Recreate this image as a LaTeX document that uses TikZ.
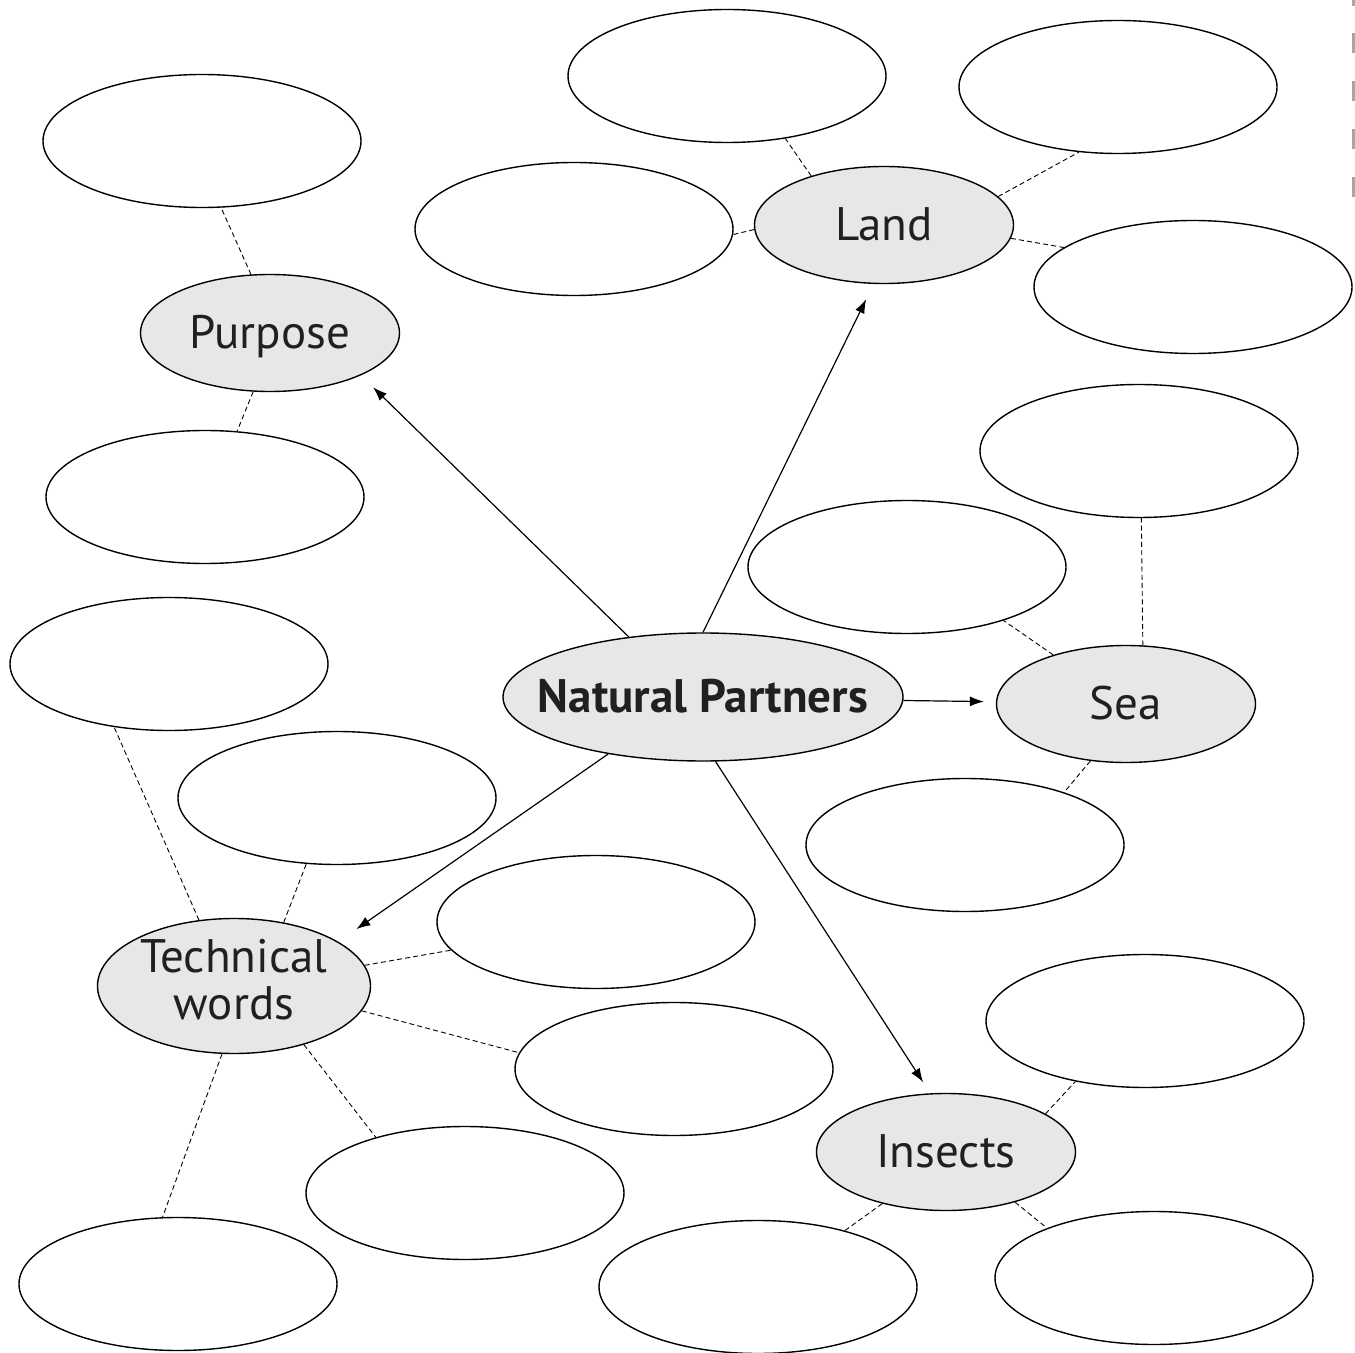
\documentclass[tikz,border=0pt]{standalone}
\usepackage{fontspec}
\setmainfont{PT Sans}
\usetikzlibrary{shapes.geometric,arrows.meta}
\definecolor{hubgray}{HTML}{E6E7E8}
\definecolor{ink}{HTML}{231F20}
\newcommand{\ctext}[1]{\makebox[0pt]{\begin{tabular}{@{}c@{}}#1\end{tabular}}}

\begin{document}
\begin{tikzpicture}[x=0.5pt,y=-0.5pt,>={Latex[length=7pt,width=5pt]},
    blank/.style={ellipse,draw,line width=0.7pt,minimum width=159pt,minimum height=66.5pt,inner sep=0pt},
    topic/.style={ellipse,draw,line width=0.7pt,fill=hubgray,minimum width=129.5pt,minimum height=58.5pt,
      inner sep=0pt,text depth=0pt,text=ink,font=\fontsize{23.5}{23}\selectfont},
    link/.style={dash pattern=on 2.5pt off 1.6pt,line width=0.45pt},
    spoke/.style={->,line width=0.6pt}]
  \useasboundingbox (0,0) rectangle (1355,1353);

  % topics
  \node[topic,minimum width=200pt,minimum height=64pt,font=\fontsize{23.5}{23}\selectfont\bfseries] (np) at (703,697) {\ctext{Natural Partners}};
  \node[topic] (purpose) at (270,333) {\ctext{Purpose}};
  \node[topic] (land) at (884,225) {\ctext{Land}};
  \node[topic] (sea) at (1126,704) {\ctext{Sea}};
  \node[topic,minimum width=136.5pt,minimum height=67.5pt,text depth=] (tech) at (234,986) {\ctext{Technical\\words}};
  \node[topic] (insects) at (946,1152) {\ctext{Insects}};

  % blanks
  \node[blank] (pA) at (202,141) {};
  \node[blank] (pB) at (205,497) {};
  \node[blank] (lA) at (727,76) {};
  \node[blank] (lB) at (1118,87) {};
  \node[blank] (lC) at (574,229) {};
  \node[blank] (lD) at (1193,287) {};
  \node[blank] (sA) at (1139,451) {};
  \node[blank] (sB) at (907,567) {};
  \node[blank] (sC) at (965,845) {};
  \node[blank] (tA) at (169,664) {};
  \node[blank] (tB) at (337,798) {};
  \node[blank] (tC) at (596,922) {};
  \node[blank] (tD) at (674,1069) {};
  \node[blank] (tE) at (465,1193) {};
  \node[blank] (tF) at (178,1284) {};
  \node[blank] (iA) at (1145,1021) {};
  \node[blank] (iB) at (758,1287) {};
  \node[blank] (iC) at (1154,1278) {};

  % arrows
  \draw[spoke,shorten >=8.5pt] (np.141) -- (purpose.-25);
  \draw[spoke,shorten >=8.5pt] (np.90) -- (land.-100);
  \draw[spoke,shorten >=6pt] (np.-1.4) -- (sea.179);
  \draw[spoke,shorten >=11pt] (np.211) -- (tech.23.7);
  \draw[spoke,shorten >=6.5pt] (np.-79.5) -- (insects.105);

  % dashed links
  \draw[link] (purpose.108.7) -- (pA.-74.7);
  \draw[link] (purpose.-106.7) -- (pB.64.5);
  \draw[link] (land.146.9) -- (lA.-47.8);
  \draw[link] (land.14.4) -- (lB.-121.6);
  \draw[link] (land.182) -- (lC.-2.2);
  \draw[link] (land.-6.6) -- (lD.163);
  \draw[link] (sea.74) -- (sA.-88);
  \draw[link] (sea.146) -- (sB.-29);
  \draw[link] (sea.-122) -- (sC.28);
  \draw[link] (tech.118.6) -- (tA.-131);
  \draw[link] (tech.52) -- (tB.-115);
  \draw[link] (tech.9.5) -- (tC.-169);
  \draw[link] (tech.-11.5) -- (tD.174);
  \draw[link] (tech.-40) -- (tE.148.5);
  \draw[link] (tech.-100) -- (tF.103.6);
  \draw[link] (insects.21) -- (iA.-139.4);
  \draw[link] (insects.-141.8) -- (iB.33.4);
  \draw[link] (insects.-36.6) -- (iC.155);

  % edge marks
  \fill[gray!70] (1352,0) rectangle (1355,6);
  \foreach \y in {33,81,129,177}
    \fill[gray!70] (1352,\y) rectangle (1355,\y+20);
\end{tikzpicture}
\end{document}
